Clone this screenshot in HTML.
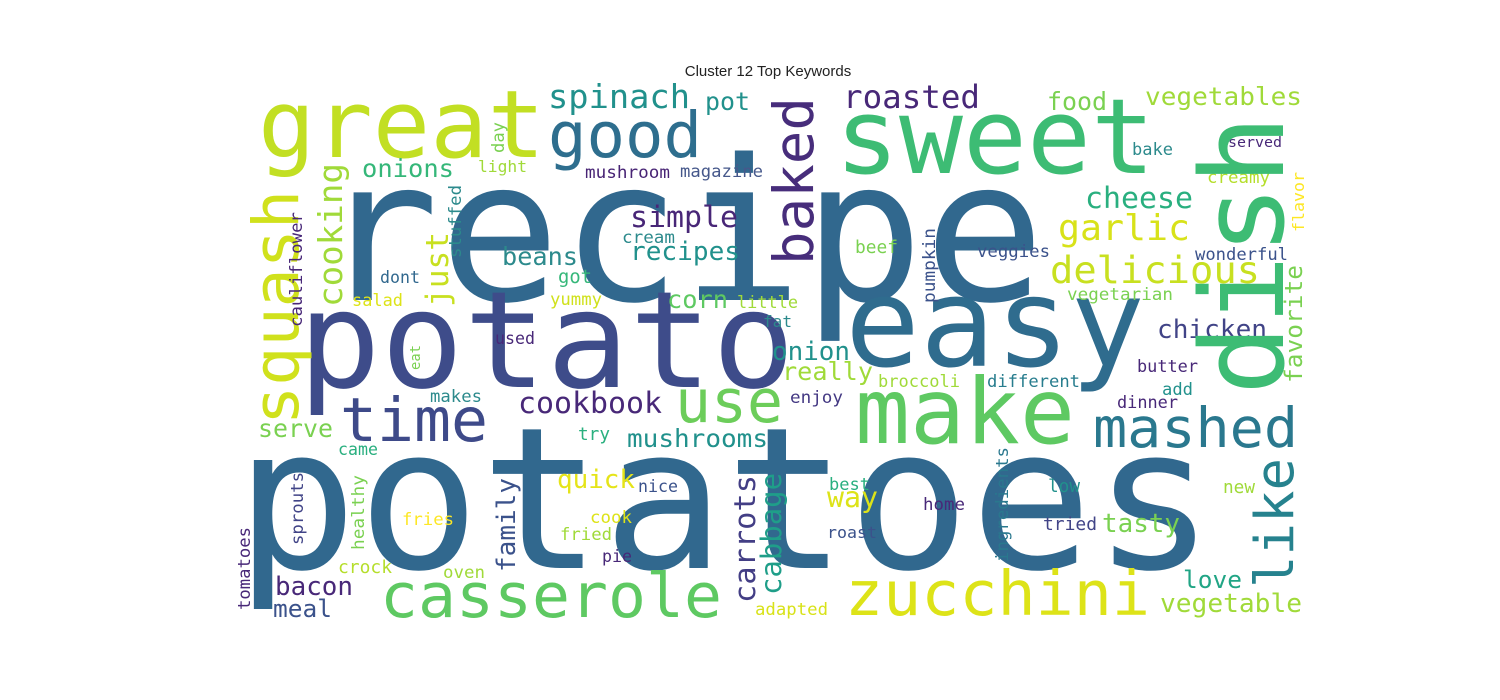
<!DOCTYPE html>
<html><head><meta charset="utf-8">
<style>
html,body{margin:0;padding:0;background:#fff;}
svg{display:block;}
text{font-family:"DejaVu Sans Mono","Liberation Mono",monospace;}
.title{font-family:"Liberation Sans","DejaVu Sans",sans-serif;font-size:15px;fill:#222;}
</style></head>
<body>
<svg id="cloud" width="1500" height="700" viewBox="0 0 1500 700" xmlns="http://www.w3.org/2000/svg">
<rect width="1500" height="700" fill="#fff"/>
<text class="title" x="768" y="76" text-anchor="middle">Cluster 12 Top Keywords</text>
<g id="words"></g>
</svg>
<script>
// horizontal words: [word, xStart, xEnd, baselineY, color]
const hWords = [
["potatoes",235,1215,568,"#31688e"],["recipe",318,1045,300,"#31688e"],["potato",298,795,387,"#3e4c8a"],
["easy",845,1145,366,"#2f6c8e"],["great",258,545,157,"#c2df23"],["sweet",835,1155,173,"#3dbc74"],
["make",855,1075,443,"#5ec962"],["good",548,702,157,"#2e6e8e"],["time",340,488,441,"#3e4a89"],
["use",675,783,422,"#6ccd5a"],["mashed",1093,1298,447,"#2a788e"],["casserole",380,722,617,"#5ec962"],
["zucchini",845,1150,615,"#dde318"],["spinach",548,690,108,"#21918c"],["pot",705,750,110,"#21918c"],
["roasted",843,980,108,"#482878"],["food",1047,1107,110,"#7ad151"],["vegetables",1145,1302,105,"#a0da39"],
["onions",362,454,177,"#35b779"],["light",478,527,172,"#a0da39"],["mushroom",585,670,178,"#482475"],
["magazine",680,763,177,"#46588b"],["simple",630,738,227,"#482677"],["cheese",1085,1193,208,"#29af7f"],
["served",1228,1282,147,"#482878"],["bake",1132,1173,155,"#2c8a8c"],["creamy",1207,1270,183,"#b5de2b"],
["garlic",1058,1190,240,"#d8e219"],["delicious",1050,1260,283,"#c8e020"],["veggies",977,1050,257,"#3b528b"],
["wonderful",1195,1288,260,"#3b528b"],["vegetarian",1067,1173,300,"#7ad151"],["chicken",1157,1267,338,"#414487"],
["cream",622,675,243,"#2c8a8c"],["recipes",630,740,260,"#21918c"],["beef",855,898,253,"#7ad151"],
["beans",502,578,265,"#2c8a8c"],["dont",380,420,283,"#31688e"],["got",558,592,283,"#35b779"],
["salad",352,403,306,"#dde318"],["yummy",550,602,305,"#d0e11c"],["corn",667,728,308,"#5ec962"],
["little",737,798,308,"#a0da39"],["fat",763,792,327,"#2c8a8c"],["used",495,535,344,"#482878"],
["onion",772,850,360,"#21918c"],["really",782,873,380,"#a0da39"],["broccoli",878,960,387,"#a0da39"],
["cookbook",518,662,413,"#482878"],["enjoy",790,843,403,"#443983"],["different",987,1080,387,"#287d8e"],
["butter",1137,1198,372,"#482878"],["add",1162,1193,395,"#21918c"],["dinner",1117,1178,408,"#482878"],
["makes",430,482,402,"#2c8a8c"],["serve",258,333,437,"#7ad151"],["mushrooms",627,768,447,"#21918c"],
["try",578,610,440,"#2ab07f"],["came",338,378,455,"#29af7f"],["quick",557,635,488,"#e5e419"],
["nice",638,678,492,"#3b528b"],["best",829,870,490,"#29af7f"],["way",827,878,507,"#dde318"],
["home",923,965,510,"#482878"],["low",1048,1080,492,"#21918c"],["new",1223,1255,493,"#a0da39"],
["tried",1043,1097,530,"#414487"],["tasty",1102,1180,532,"#7ad151"],["cook",590,632,523,"#dde318"],
["fried",560,612,540,"#a0da39"],["roast",827,877,538,"#3b528b"],["fries",402,454,525,"#fde725"],
["pie",602,632,562,"#482878"],["crock",338,392,573,"#b5de2b"],["oven",443,485,578,"#a0da39"],
["bacon",275,353,595,"#482878"],["meal",273,332,617,"#3b528b"],["love",1183,1242,588,"#21a585"],
["vegetable",1160,1302,612,"#a0da39"],["adapted",755,828,615,"#d8e219"]
];
// vertical words (reading upward): [word, baselineX, yBottom, yTop, color]
const vWords = [
["dish",1283,395,115,"#3dbc74"],["squash",298,425,190,"#d0e11c"],["baked",813,265,97,"#472d7b"],
["cooking",342,307,163,"#a0da39"],["just",448,307,232,"#c8e020"],["stuffed",461,258,185,"#2c8a8c"],
["day",504,153,122,"#7ad151"],["cauliflower",302,327,212,"#482878"],["eat",420,370,345,"#7ad151"],
["family",515,572,478,"#3b528b"],["sprouts",303,545,472,"#414487"],["healthy",364,550,475,"#7ad151"],
["tomatoes",250,610,527,"#482878"],["carrots",755,603,475,"#433e85"],["cabbage",781,595,473,"#1f9e89"],
["pumpkin",935,303,228,"#3b528b"],["favorite",1302,383,265,"#7ad151"],["flavor",1304,232,172,"#fde725"],
["like",1293,588,458,"#26828e"],["ingredients",1008,562,447,"#2a788e"]
];
const NS = "http://www.w3.org/2000/svg";
const g = document.getElementById("words");
function sizeFor(word, len){ return 0.95 * len / (word.length * 0.602 - 0.1); }
hWords.forEach(function(w){
  const len = w[2] - w[1];
  const t = document.createElementNS(NS, "text");
  t.setAttribute("x", w[1]);
  t.setAttribute("y", w[3]);
  t.setAttribute("font-size", sizeFor(w[0], len).toFixed(1));
  t.setAttribute("textLength", len);
  t.setAttribute("lengthAdjust", "spacingAndGlyphs");
  t.setAttribute("fill", w[4]);
  t.textContent = w[0];
  
  
  g.appendChild(t);
});
vWords.forEach(function(w){
  const len = w[2] - w[3];
  const t = document.createElementNS(NS, "text");
  t.setAttribute("x", 0);
  t.setAttribute("y", 0);
  t.setAttribute("transform", "translate(" + w[1] + "," + w[2] + ") rotate(-90)");
  t.setAttribute("font-size", sizeFor(w[0], len).toFixed(1));
  t.setAttribute("textLength", len);
  t.setAttribute("lengthAdjust", "spacingAndGlyphs");
  t.setAttribute("fill", w[4]);
  t.textContent = w[0];
  
  
  g.appendChild(t);
});
</script>
</body></html>
